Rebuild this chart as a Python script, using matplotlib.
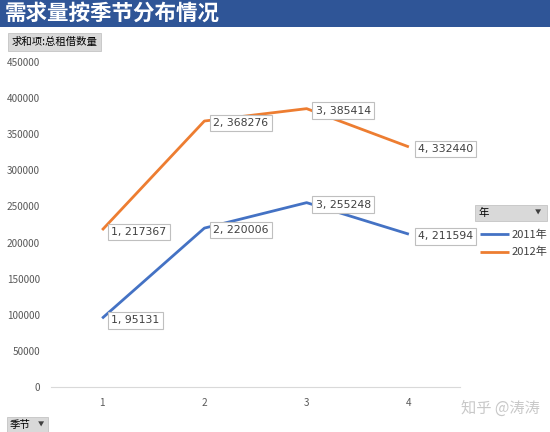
import matplotlib
matplotlib.use("Agg")
import matplotlib.pyplot as plt
from matplotlib.patches import Rectangle

plt.rcParams['font.family'] = ['Noto Sans CJK SC', 'DejaVu Sans']

seasons = [1, 2, 3, 4]
demand_2011 = [95131, 220006, 255248, 211594]
demand_2012 = [217367, 368276, 385414, 332440]
series_names = ['2011年', '2012年']
colors = ['#4472C4', '#ED7D31']

fig = plt.figure(figsize=(5.5, 4.32), dpi=100)
ax = fig.add_axes([51 / 550, 1 - 387 / 432, (460 - 51) / 550, (387 - 62) / 432])

for vals, name, c in zip([demand_2011, demand_2012], series_names, colors):
    ax.plot(seasons, vals, color=c, lw=2.0, label=name, solid_capstyle='butt')
    for s, v in zip(seasons, vals):
        ax.annotate(f'{s}, {v}', (s, v), xytext=(6.5, -1.5), textcoords='offset points',
                    ha='left', va='center', fontsize=7.8, color='#404040',
                    family=['DejaVu Sans'],
                    bbox=dict(boxstyle='square,pad=0.3', fc='white', ec='#BFBFBF', lw=0.8))

ax.set_xlim(0.5, 4.5)
ax.set_ylim(0, 450000)
ax.set_xticks(seasons)
ax.set_yticks(range(0, 450001, 50000))
ax.tick_params(axis='both', length=0, labelsize=7.2, colors='#595959')
ax.tick_params(axis='x', pad=8)
ax.tick_params(axis='y', pad=8)
for side in ['top', 'right', 'left']:
    ax.spines[side].set_visible(False)
ax.spines['bottom'].set_color('#D9D9D9')


def fig_box(x0, y0, x1, y1):
    # gray button drawn in pixel coords from top-left
    fig.patches.append(Rectangle((x0 / 550, 1 - y1 / 432), (x1 - x0) / 550, (y1 - y0) / 432,
                                 transform=fig.transFigure, fc='#D9D9D9', ec='#C4C4C4', lw=0.6))


# title bar
fig.patches.append(Rectangle((0, 1 - 27 / 432), 1, 27 / 432, transform=fig.transFigure,
                             fc='#2F5597', ec='none'))
fig.text(5 / 550, 1 - 13 / 432, '需求量按季节分布情况', color='white', fontsize=15.5,
         fontweight='bold', va='center', ha='left')

# field buttons
fig_box(8, 33, 101, 51)
fig.text(12 / 550, 1 - 42 / 432, '求和项:总租借数量', fontsize=7.5, va='center', ha='left')
fig_box(7, 417, 48, 432)
fig.text(10 / 550, 1 - 425 / 432, '季节', fontsize=7.5, va='center', ha='left')
fig.text(41 / 550, 1 - 425 / 432, '▼', fontsize=4.5, va='center', ha='center', color='#404040')

# legend
fig_box(475, 205, 547, 221)
fig.text(479 / 550, 1 - 213 / 432, '年', fontsize=7.5, va='center', ha='left')
fig.text(538 / 550, 1 - 213 / 432, '▼', fontsize=4.5, va='center', ha='center', color='#404040')
handles, labels = ax.get_legend_handles_labels()
fig.legend(handles, labels, loc='upper left', bbox_to_anchor=(470 / 550, 1 - 220 / 432),
           frameon=False, fontsize=8, handlelength=2.6, handletextpad=0.2,
           labelspacing=0.6, labelcolor='#404040')

# watermark
fig.text(540 / 550, 1 - 408 / 432, '知乎 @涛涛', fontsize=11, color='#C8C8C8',
         ha='right', va='center')

fig.savefig('out.png', dpi=100)
